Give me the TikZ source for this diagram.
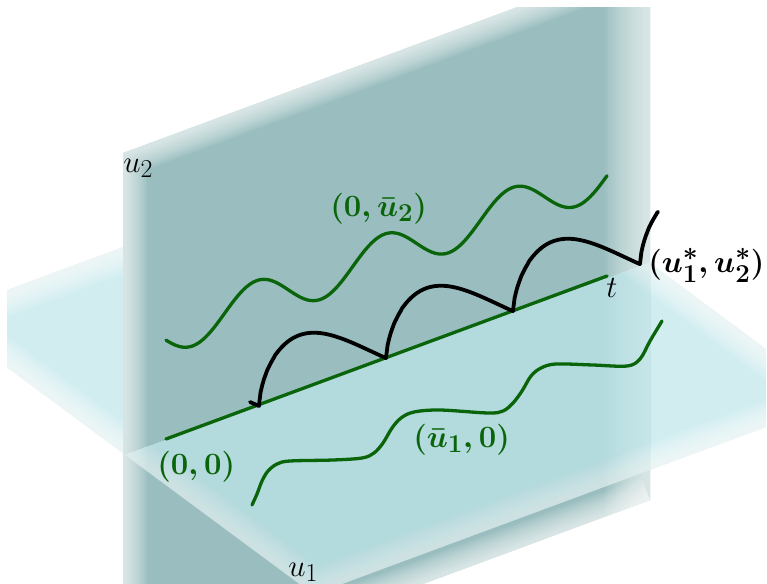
\documentclass[tikz,border=0pt]{standalone}
\usepackage{amsmath}
\definecolor{vbase}{RGB}{154,190,191}
\definecolor{hcol}{RGB}{190,230,234}
\definecolor{dgreen}{RGB}{10,100,10}
\tikzset{
  lbl/.style={inner sep=0pt, anchor=base west, font=\Huge, scale=1.246},
  blbl/.style={inner sep=0pt, anchor=base west, font=\Huge\boldmath, scale=1.246},
  glbl/.style={blbl, text=dgreen},
  gcurve/.style={draw=dgreen, line width=3.3pt, line cap=round, line join=round},
  bcurve/.style={draw=black, line width=3.8pt, line cap=round, line join=round},
  fadestroke/.style={draw=white, opacity=0.065},
}
\newcommand{\hplanedraw}{%
 \begin{scope}[transparency group, opacity=0.7]
  \clip (-62.6,315.8) -- (460,122.4) -- (836.2,401) -- (313.6,594.4) -- cycle;
  \fill[hcol] (-100,-100) rectangle (900,700);
  \foreach \k in {1,...,16}{
    \pgfmathsetmacro\lw{3.2*\k}
    \draw[fadestroke, line width=\lw pt] (-62.6,315.8) -- (460,122.4) -- (836.2,401) -- (313.6,594.4) -- cycle;
  }
 \end{scope}}
\newcommand{\vplanedraw}{%
 \begin{scope}
  \clip (123,153) -- (650,-42) -- (650,500) -- (123,695) -- cycle;
  \fill[vbase] (0,-100) rectangle (800,800);
  \foreach \k in {1,...,16}{
    \pgfmathsetmacro\lwa{3.0*\k}
    \pgfmathsetmacro\lwb{5.6*\k}
    \draw[fadestroke, line width=\lwa pt] (123,800) -- (123,153) -- (650,-42);
    \draw[fadestroke, line width=\lwb pt] (650,-100) -- (650,800);
    \draw[fadestroke, line width=\lwa pt] (650,500) -- (123,695);
  }
 \end{scope}}
\begin{document}
\begin{tikzpicture}[x=1pt,y=-1pt,
  declare function={
    bk(\x,\c)=439.5-0.37*(\x-166)-55*sin(180*((\x-\c)/127+0.00001)^0.6);
    gu(\x)=335-0.364*(\x-165)-21*sin(2.8125*(\x-224.6));
  }]
\useasboundingbox (0,0) rectangle (767,583);
% planes
\begin{scope}
  \clip (7,8) rectangle (765,600);
  \hplanedraw
  \vplanedraw
  \begin{scope}
    \clip (123,455) -- (650,262) -- (650,500) -- (123,695) -- cycle;
    \hplanedraw
  \end{scope}
\end{scope}
% t axis
\coordinate (O) at (166,439);
\coordinate (T) at (607,276);
\draw[gcurve] (O) -- (T);
% upper green curve (0, u2bar)
\draw[gcurve] plot[domain=166:607, samples=160, smooth] (\x,{gu(\x)});
% lower green curve (u1bar, 0)
\draw[gcurve] plot[smooth, tension=0.55] coordinates {
  (252,505) (257,494) (262,481) (268,471) (277,464) (290,461) (333,460)
  (362,458) (374,453) (383,443) (392,428) (401,418) (414,412) (440,410)
  (488,413) (503,411) (513,403) (522,391) (531,376) (541,368) (556,364)
  (593,365) (627,366) (640,359) (650,341) (662,321)};
% black curve (u1*, u2*)
\coordinate (B0) at (250,402);
\draw[bcurve] (B0) -- (259,406)
  -- plot[domain=259:386, samples=80] (\x,{bk(\x,259)})
  -- plot[domain=386:513, samples=80] (\x,{bk(\x,386)})
  -- plot[domain=513:640, samples=80] (\x,{bk(\x,513)})
  -- plot[domain=640:658, samples=15] (\x,{bk(\x,640)});
% labels
\node[glbl] (lO) at (157,474) {$(0,0)$};
\node[glbl] (lU1) at (413,447) {$(\bar u_1,0)$};
\node[glbl] (lU2) at (330,216) {$(0,\bar u_2)$};
\node[blbl] (lS) at (648,272) {$(u_1^*,u_2^*)$};
\node[lbl] (lt) at (606,297) {$t$};
\node[lbl] (lu2) at (123,172) {$u_2$};
\node[lbl] (lu1) at (288,576) {$u_1$};
\end{tikzpicture}
\end{document}
